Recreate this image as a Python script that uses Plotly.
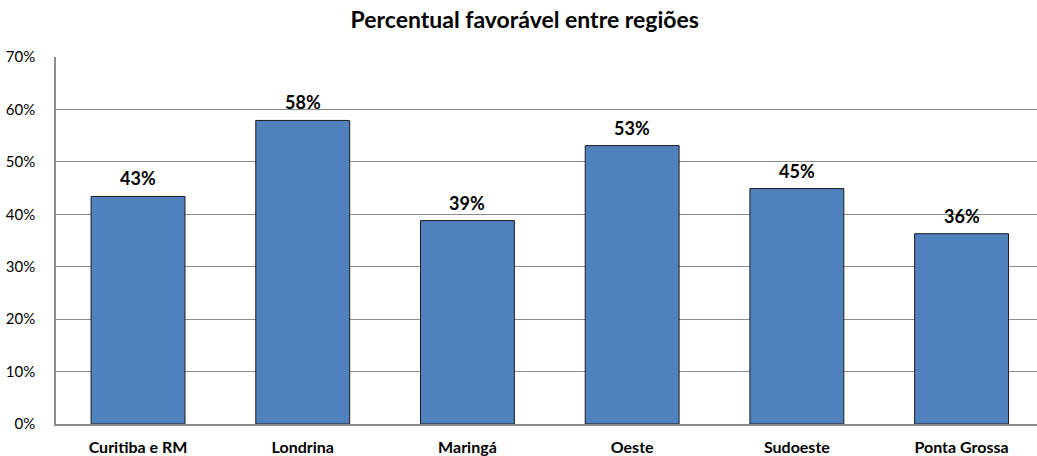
import plotly.graph_objects as go

# Share of favourable answers per region (fraction of 1)
regioes = ["Curitiba e RM", "Londrina", "Maringá", "Oeste", "Sudoeste", "Ponta Grossa"]
favoravel = [0.434, 0.579, 0.388, 0.531, 0.449, 0.363]
y_ticks = [0, 0.1, 0.2, 0.3, 0.4, 0.5, 0.6, 0.7]

pos = list(range(len(regioes)))
FONT = "Lato, 'Open Sans', sans-serif"

fig = go.Figure(
    go.Bar(
        x=pos,
        y=favoravel,
        width=0.57,
        marker=dict(color="#4F81BD", line=dict(color="#1c1c1c", width=1)),
        hoverinfo="skip",
    )
)

# value labels above each bar, rounded to whole percent
for xi, v in zip(pos, favoravel):
    fig.add_annotation(
        x=xi, y=v, text=f"<b>{v:.0%}</b>", showarrow=False,
        yanchor="middle", yshift=18,
        font=dict(family=FONT, size=18, color="#000000"),
    )

fig.update_layout(
    width=1037, height=456,
    margin=dict(l=56, r=0, t=57, b=30),
    paper_bgcolor="white", plot_bgcolor="white",
    showlegend=False,
    title=dict(
        text="<b>Percentual favorável entre regiões</b>",
        x=0.506, xanchor="center", y=0.956, yanchor="middle",
        font=dict(family=FONT, size=23, color="#000000"),
    ),
)
fig.update_xaxes(
    range=[-0.498, 5.458],
    tickmode="array", tickvals=pos, ticktext=[f"<b>{r}</b>" for r in regioes],
    tickfont=dict(family=FONT, size=16, color="#000000"),
    showgrid=False, zeroline=False,
    showline=True, linecolor="#8c8c8c", linewidth=1.5,
    ticks="", ticklabelstandoff=8,
)
fig.update_yaxes(
    range=[0, 0.7],
    tickmode="array", tickvals=y_ticks, tickformat=".0%",
    tickfont=dict(family=FONT, size=15, color="#000000"),
    showgrid=True, gridcolor="#8c8c8c", gridwidth=1,
    zeroline=False,
    showline=True, linecolor="#8c8c8c", linewidth=1.5,
    ticks="", ticklabelstandoff=16,
)

fig.write_html("out.html")
